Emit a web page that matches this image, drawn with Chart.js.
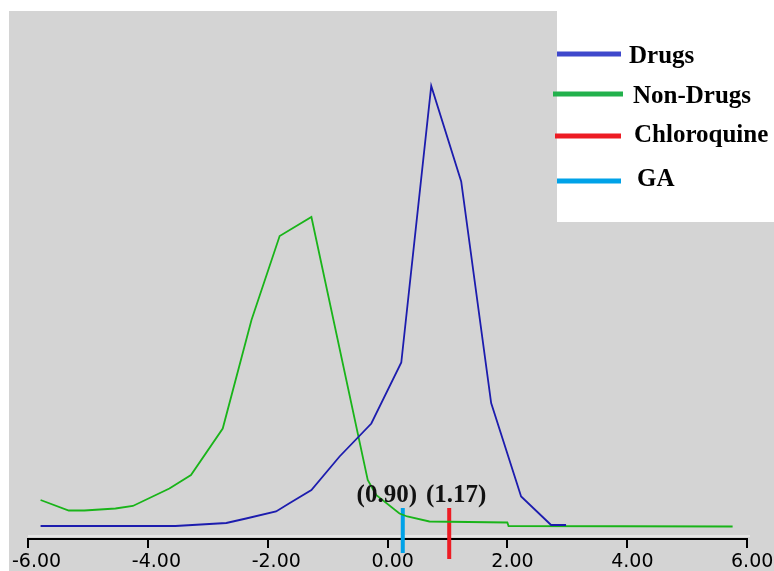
<!DOCTYPE html>
<html>
<head>
<meta charset="utf-8">
<script src="https://cdn.jsdelivr.net/npm/chart.js@4"></script>
<style>
  html, body { margin: 0; padding: 0; background: #fff; }
</style>
</head>
<body>
<canvas id="distChart" width="774" height="571"></canvas>
<script>
// curve vertices (x = score, y = relative frequency)
const drugsX = [-5.79, -3.54, -2.69, -2.36, -1.86, -1.63, -1.27, -0.80, -0.27, 0.23, 0.73, 1.23, 1.73, 2.23, 2.73, 2.98];
const drugsY = [0, 0, 0.6, 1.5, 2.9, 4.6, 7.2, 13.9, 20.5, 32.7, 88.0, 68.9, 24.6, 5.9, 0.2, 0.2];

const nonDrugsX = [-5.79, -5.32, -5.06, -4.54, -4.25, -3.64, -3.28, -2.75, -2.27, -1.80, -1.27, -0.33, -0.19, 0.20, 0.33, 0.70, 2.00, 2.02, 5.76];
const nonDrugsY = [5.2, 3.1, 3.1, 3.5, 4.0, 7.5, 10.2, 19.5, 41.2, 58.0, 61.8, 9.2, 6.2, 2.5, 1.9, 0.9, 0.7, 0.0, -0.1];

// marker lines
const chloroquineX = 1.03;
const chloroquineY = [3.6, -6.6];
const gaX = 0.255;
const gaY = [3.6, -5.4];

const markerLabels = ['(0.90)', '(1.17)'];
const seriesNames = ['Drugs', 'Non-Drugs', 'Chloroquine', 'GA'];
const xTicks = [-6, -4, -2, 0, 2, 4, 6];

function toPoints(xs, ys) {
    return xs.map((x, i) => ({x: x, y: ys[i]}));
}

// gray plot background with the white corner box
const backgroundPlugin = {
    id: 'bg',
    beforeDraw(chart) {
        const ctx = chart.ctx;
        ctx.save();
        ctx.fillStyle = '#fff';
        ctx.fillRect(0, 0, chart.width, chart.height);
        ctx.fillStyle = '#d4d4d4';
        ctx.fillRect(9, 11, chart.width - 9, chart.height - 11);
        ctx.strokeStyle = '#ececec';
        ctx.lineWidth = 1.5;
        ctx.beginPath();
        ctx.moveTo(chart.chartArea.left, chart.chartArea.bottom - 3);
        ctx.lineTo(chart.chartArea.right + 3, chart.chartArea.bottom - 3);
        ctx.stroke();
        ctx.restore();
    }
};

// value labels above the two marker lines
const markerLabelPlugin = {
    id: 'markerLabels',
    afterDatasetsDraw(chart) {
        const ctx = chart.ctx;
        const xs = chart.scales.x;
        ctx.save();
        ctx.font = 'bold 25px "Liberation Serif", "Times New Roman", serif';
        ctx.fillStyle = '#111';
        ctx.textAlign = 'center';
        ctx.textBaseline = 'alphabetic';
        ctx.fillText(markerLabels[0], xs.getPixelForValue(gaX) - 16, 502);
        ctx.fillText(markerLabels[1], xs.getPixelForValue(chloroquineX) + 7, 502);
        ctx.restore();
    }
};

// legend in a white box, top right
const boxLegendPlugin = {
    id: 'boxLegend',
    afterDraw(chart) {
        const ctx = chart.ctx;
        const colors = ['#3f48cc', '#22b14c', '#ed1c24', '#00a2e8'];
        const rows = [
            {x1: 557, x2: 621, ly: 54, tx: 629, ty: 63},
            {x1: 553, x2: 623, ly: 94, tx: 633, ty: 103},
            {x1: 555, x2: 621, ly: 136, tx: 634, ty: 142},
            {x1: 557, x2: 621, ly: 181, tx: 637, ty: 186}
        ];
        ctx.save();
        ctx.fillStyle = '#fff';
        ctx.fillRect(557, 0, chart.width - 557, 222);
        ctx.font = 'bold 25px "Liberation Serif", "Times New Roman", serif';
        ctx.textBaseline = 'alphabetic';
        ctx.textAlign = 'left';
        rows.forEach((r, i) => {
            ctx.strokeStyle = colors[i];
            ctx.lineWidth = 5;
            ctx.beginPath();
            ctx.moveTo(r.x1, r.ly);
            ctx.lineTo(r.x2, r.ly);
            ctx.stroke();
            ctx.fillStyle = '#000';
            ctx.fillText(seriesNames[i], r.tx, r.ty);
        });
        ctx.restore();
    }
};

const ctx = document.getElementById('distChart').getContext('2d');
const chart = new Chart(ctx, {
    type: 'line',
    data: {
        datasets: [
            {
                label: seriesNames[0],
                data: toPoints(drugsX, drugsY),
                borderColor: '#1c1cae',
                borderWidth: 1.8,
                pointRadius: 0,
                tension: 0
            },
            {
                label: seriesNames[1],
                data: toPoints(nonDrugsX, nonDrugsY),
                borderColor: '#19b419',
                borderWidth: 1.8,
                pointRadius: 0,
                tension: 0
            },
            {
                label: seriesNames[2],
                data: toPoints([chloroquineX, chloroquineX], chloroquineY),
                borderColor: '#ed1c24',
                borderWidth: 4,
                pointRadius: 0,
                clip: false
            },
            {
                label: seriesNames[3],
                data: toPoints([gaX, gaX], gaY),
                borderColor: '#00a2e8',
                borderWidth: 4,
                pointRadius: 0,
                clip: false
            }
        ]
    },
    options: {
        responsive: false,
        animation: false,
        layout: {padding: {left: 28, right: 27, top: 11, bottom: 0}},
        plugins: {
            legend: {display: false},
            tooltip: {enabled: false}
        },
        scales: {
            x: {
                type: 'linear',
                min: -6,
                max: 6,
                border: {display: true, color: '#000', width: 2},
                grid: {drawOnChartArea: false, drawTicks: true, tickLength: 9, color: '#000', lineWidth: 2},
                afterBuildTicks: (scale) => {
                    scale.ticks = xTicks.map(v => ({value: v}));
                },
                afterFit: (scale) => {
                    scale.paddingLeft = 0;
                    scale.paddingRight = 0;
                    scale.height = 32;
                },
                ticks: {
                    autoSkip: false,
                    maxRotation: 0,
                    align: 'start',
                    labelOffset: -16,
                    padding: 3,
                    color: '#000',
                    font: {family: '"DejaVu Sans", sans-serif', size: 19},
                    callback: (v) => Number(v).toFixed(2)
                }
            },
            y: {
                display: false,
                min: -2.6,
                max: 103
            }
        }
    },
    plugins: [backgroundPlugin, markerLabelPlugin, boxLegendPlugin]
});
</script>
</body>
</html>
